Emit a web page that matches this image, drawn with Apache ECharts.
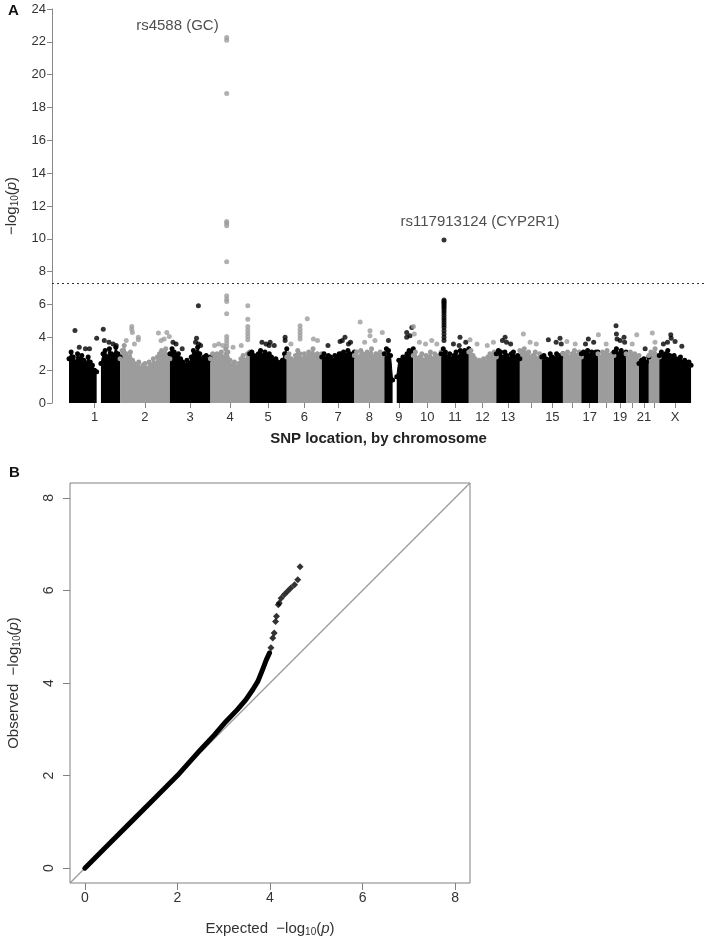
<!DOCTYPE html>
<html><head><meta charset="utf-8">
<script src="https://cdn.jsdelivr.net/npm/echarts@6/dist/echarts.min.js"></script>
<style>html,body{margin:0;padding:0;background:#fff}#c{width:712px;height:944px}</style>
</head><body><div id="c"></div>
<script>
// ---------------- Panel A data (Manhattan) ----------------
const chromNames = ['1','2','3','4','5','6','7','8','9','10','11','12','13','14','15','16','17','18','19','20','21','22','X'];
const chromLengths = [249,243,198,191,181,171,159,146,141,136,135,134,115,107,103,90,81,78,59,63,48,51,155]; // Mb
const shownChromLabels = ['1','2','3','4','5','6','7','8','9','10','11','12','13','15','17','19','21','X'];
const yTicksA = [0,2,4,6,8,10,12,14,16,18,20,22,24];
const significanceLine = 7.3;

// upper edge of the dense SNP cloud per chromosome (evenly spaced along the chromosome), null = no SNPs
const bulk1  = [2.7,3.1,2.8,2.5,3.0,2.7,2.9,2.6,2.4,2.8,2.5,2.3,2.0,1.9,null,2.4,3.0,3.2,2.8,3.3,3.0,2.9,3.4,3.0,2.8];
const bulk2  = [2.7,3.2,3.5,3.0,2.8,3.1,2.6,2.4,2.2,2.5,2.1,2.3,2.4,2.1,2.5,2.3,2.7,2.4,2.8,3.0,3.2,3.0,3.3,2.9,2.7];
const bulk3  = [3.0,3.3,3.1,2.9,3.0,2.7,2.5,2.3,2.6,2.4,2.8,3.2,3.0,3.4,3.0,2.7,2.8,2.9,2.6,2.8];
const bulk4  = [2.7,3.0,2.8,3.0,2.9,3.1,2.8,3.3,3.1,2.6,2.3,2.5,2.2,2.4,2.7,2.9,2.6,3.0,3.1];
const bulk5  = [3.0,3.1,2.9,2.8,3.0,3.2,2.9,3.1,2.9,3.0,2.8,2.6,2.7,2.5,2.4,2.6,3.0,3.3];
const bulk6  = [2.8,3.0,2.7,2.6,2.9,3.2,3.0,2.7,3.0,2.8,3.1,3.0,3.3,2.9,3.0,2.8,3.0];
const bulk7  = [2.8,3.0,2.7,2.9,2.8,2.6,2.9,2.8,3.0,3.0,3.1,2.9,3.2,3.0,2.8,3.1];
const bulk8  = [2.9,3.1,2.8,3.2,3.0,2.9,3.1,3.0,3.3,2.8,3.0,2.9,3.1,2.9,3.0];
const bulk9  = [3.0,3.3,3.2,2.9,1.4,null,1.6,2.6,2.6,2.8,2.8,3.0,3.2,3.1,3.3];
const bulk10 = [2.9,3.1,2.7,2.8,3.0,2.6,2.9,2.8,3.1,2.7,3.0,2.8,2.9,3.1];
const bulk11 = [3.0,3.3,3.1,2.8,3.0,2.7,2.9,3.1,2.8,3.2,3.0,3.2,3.1,3.3];
const bulk12 = [3.1,3.2,2.9,2.7,2.5,2.6,2.4,2.7,2.5,2.8,3.0,2.9,3.1,2.8];
const bulk13 = [3.0,3.2,3.1,2.8,3.1,2.9,2.7,3.0,3.1,2.8,2.9,2.7];
const bulk14 = [3.2,3.1,3.3,3.0,3.1,2.8,2.9,3.1,2.7,3.0,2.8];
const bulk15 = [2.8,2.9,2.7,2.6,3.0,2.8,2.7,3.0,2.9,2.8,3.0];
const bulk16 = [3.0,2.9,3.1,2.8,3.0,3.2,2.9,3.1,2.8];
const bulk17 = [3.0,3.1,3.0,3.2,2.9,3.1,3.0,3.1,3.1];
const bulk18 = [3.0,2.8,3.1,3.0,3.2,2.9,3.0,2.9];
const bulk19 = [3.1,3.3,3.0,3.2,3.0,3.1];
const bulk20 = [3.0,2.8,3.1,2.9,3.0,2.8,2.9];
const bulk21 = [2.4,2.6,2.7,2.5,2.8];
const bulk22 = [2.9,3.1,3.0,3.3,2.9,2.8];
const bulkX  = [2.9,3.1,2.9,3.0,3.2,2.9,2.8,2.9,2.7,2.6,2.8,2.5,2.6,2.4,2.5,2.3];
const bulkHeights = [bulk1,bulk2,bulk3,bulk4,bulk5,bulk6,bulk7,bulk8,bulk9,bulk10,bulk11,bulk12,bulk13,bulk14,bulk15,bulk16,bulk17,bulk18,bulk19,bulk20,bulk21,bulk22,bulkX];

// individual SNPs standing out of the cloud: [chromosome index (1..23), position Mb, -log10(p)]
const hits = [
  [1,29,4.42],[1,135,3.95],[1,167,4.5],[1,172,3.8],[1,50,3.4],[1,80,3.3],[1,100,3.3],[1,195,3.7],[1,215,3.6],[1,230,3.5],
  [2,57,4.66],[2,57,4.5],[2,60,4.3],[2,89,4.0],[2,89,3.85],[2,187,4.26],[2,228,4.3],[2,240,4.05],[2,30,3.8],[2,70,3.6],[2,200,3.8],[2,215,3.9],
  [3,139,5.92],[3,130,3.95],[3,125,3.7],[3,140,3.6],[3,150,3.5],[3,15,3.7],[3,30,3.6],[3,60,3.3],
  [4,79,22.26],[4,79,22.1],[4,79,18.85],[4,79,11.05],[4,79,10.95],[4,79,10.8],[4,79,8.6],[4,79,6.53],[4,79,6.33],[4,79,6.18],[4,79,5.43],
  [4,79,4.05],[4,79,3.85],[4,79,3.65],[4,79,3.45],
  [4,182,5.92],[4,182,5.1],[4,182,4.66],[4,182,4.45],[4,182,4.25],[4,182,4.05],[4,182,3.85],
  [4,20,3.5],[4,40,3.6],[4,60,3.5],[4,110,3.4],[4,150,3.5],
  [5,173,4.0],[5,173,3.8],[5,60,3.7],[5,80,3.6],[5,100,3.7],[5,120,3.5],[5,95,3.5],
  [6,65,4.7],[6,65,4.5],[6,65,4.3],[6,65,4.1],[6,65,3.9],[6,100,5.13],[6,130,3.9],[6,150,3.8],[6,20,3.6],
  [7,113,4.0],[7,89,3.75],[7,100,3.8],[7,140,3.7],[7,30,3.5],[7,130,3.6],
  [8,28,4.93],[8,76,4.4],[8,76,4.1],[8,136,4.3],[8,50,3.7],[8,100,3.8],
  [9,109,4.3],[9,109,4.0],[9,134,4.6],[9,125,4.1],[9,20,3.8],
  [10,1,4.66],[10,30,3.7],[10,60,3.6],[10,90,3.8],[10,115,3.6],[10,5,4.2],
  [11,14,9.93],[11,14,6.28],[11,14,6.2],[11,14,6.12],[11,14,6.05],[11,14,5.95],[11,14,5.85],[11,14,5.75],[11,14,5.62],[11,14,5.5],
  [11,14,5.35],[11,14,5.2],[11,14,5.05],[11,14,4.9],[11,14,4.75],[11,14,4.6],[11,14,4.4],[11,14,4.2],[11,14,4.0],[11,14,3.8],
  [11,92,4.0],[11,88,3.5],[11,60,3.6],[11,120,3.7],
  [12,6,3.85],[12,40,3.6],[12,90,3.5],[12,120,3.7],
  [13,43,4.0],[13,30,3.8],[13,50,3.7],[13,70,3.6],
  [14,17,4.2],[14,50,3.7],[14,80,3.6],
  [15,32,3.85],[15,89,3.95],[15,70,3.7],[15,95,3.6],
  [16,19,3.75],[16,60,3.6],
  [17,34,3.9],[17,60,3.7],[17,20,3.6],
  [18,2,4.15],[18,40,3.6],
  [19,10,4.7],[19,49,4.0],[19,12,4.2],[19,15,3.9],[19,30,3.8],[19,52,3.7],
  [20,52,4.15],[20,30,3.6],
  [21,30,3.3],
  [22,17,4.26],[22,30,3.7],
  [23,56,4.15],[23,58,3.95],[23,77,3.75],[23,110,3.45],[23,20,3.6],[23,40,3.7]
];

// annotations: [text, chromosome index, position Mb, -log10(p) of label]
const annotations = [
  ['rs4588 (GC)', 4, 79, 22.95],
  ['rs117913124 (CYP2R1)', 11, 14, 11.05]
];

// ---------------- Panel B data (QQ plot) ----------------
const qqTicks = [0,2,4,6,8];
const qqExpected = [0,0.5,1.0,1.5,2.0,2.5,2.8,3.05,3.3,3.48,3.63,3.74,3.84,3.92,3.99];
const qqObserved = [0,0.5,1.0,1.5,2.0,2.56,2.88,3.17,3.43,3.64,3.86,4.04,4.29,4.50,4.65];
const qqTailExpected = [4.02,4.06,4.09,4.12,4.14,4.18,4.20,4.24,4.31,4.38,4.45,4.53,4.60,4.65];
const qqTailObserved = [4.76,4.97,5.08,5.33,5.44,5.69,5.73,5.83,5.91,5.98,6.05,6.12,6.23,6.51];
const qqRange = [-0.32, 8.32];

// ---------------- build ----------------
const BLACK = '#000000', GREY = '#9c9c9c';
const FONT = '"Liberation Sans", Arial, Helvetica, sans-serif';
const offsets = [];
let acc = 0;
chromLengths.forEach(l => { offsets.push(acc); acc += l; });
const mids = chromLengths.map((l, i) => offsets[i] + l / 2);
const colorOf = i => (i % 2 === 0 ? BLACK : GREY);
const nameAt = v => {
  let best = 0, d = Infinity;
  mids.forEach((m, i) => { if (Math.abs(m - v) < d) { d = Math.abs(m - v); best = i; } });
  return chromNames[best];
};

const series = [];
bulkHeights.forEach((arr, i) => {
  const len = chromLengths[i], n = arr.length;
  const pts = arr.map((v, j) => [offsets[i] + j * len / (n - 1), v === null ? '-' : v]);
  const c = colorOf(i);
  series.push({
    type: 'line', xAxisIndex: 0, yAxisIndex: 0, data: pts,
    symbol: 'circle', symbolSize: 5, showSymbol: true, showAllSymbol: true,
    lineStyle: { width: 1, color: c }, itemStyle: { color: c },
    areaStyle: { color: c, opacity: 1 }, connectNulls: false,
    silent: true, z: 2
  });
});
series.push({
  type: 'scatter', xAxisIndex: 0, yAxisIndex: 0, symbol: 'circle', symbolSize: 5, z: 3, silent: true,
  data: hits.map(h => ({ value: [offsets[h[0]-1] + h[1], h[2]], itemStyle: { color: colorOf(h[0]-1) } })),
  markLine: {
    silent: true, symbol: 'none', label: { show: false },
    lineStyle: { type: [2, 3], color: '#333', width: 1 },
    data: [{ yAxis: significanceLine }]
  }
});
series.push({
  type: 'scatter', xAxisIndex: 0, yAxisIndex: 0, symbolSize: 0, z: 4, silent: true,
  data: annotations.map((a, k) => ({
    value: [offsets[a[1]-1] + a[2], a[3]],
    label: k === 0
      ? { show: true, formatter: a[0], position: 'left', distance: 8 }
      : { show: true, formatter: a[0], position: 'inside', offset: [36, 0] }
  })),
  label: { fontSize: 15, color: '#222', fontFamily: FONT }
});

// QQ
series.push({
  type: 'line', xAxisIndex: 1, yAxisIndex: 1, data: [[qqRange[0], qqRange[0]], [qqRange[1], qqRange[1]]],
  symbol: 'none', lineStyle: { color: '#9a9a9a', width: 1.3 }, silent: true, z: 2
});
series.push({
  type: 'line', xAxisIndex: 1, yAxisIndex: 1, data: qqExpected.map((e, i) => [e, qqObserved[i]]),
  symbol: 'none', lineStyle: { color: '#000', width: 5, cap: 'round', join: 'round' }, silent: true, z: 3
});
series.push({
  type: 'scatter', xAxisIndex: 1, yAxisIndex: 1, data: qqTailExpected.map((e, i) => [e, qqTailObserved[i]]),
  symbol: 'diamond', symbolSize: 7, itemStyle: { color: '#000' }, silent: true, z: 3
});

const logRich = {
  n: { fontSize: 15, color: '#333', fontFamily: FONT },
  s: { fontSize: 10, color: '#333', fontFamily: FONT, verticalAlign: 'bottom', padding: [6, 0, 0, 0] },
  i: { fontSize: 15, color: '#333', fontFamily: FONT, fontStyle: 'italic' }
};

const option = {
  animation: false,
  backgroundColor: '#fff',
  textStyle: { fontFamily: FONT },
  graphic: [
    { type: 'text', left: 8, top: 3, style: { text: 'A', font: 'bold 15px ' + FONT, fill: '#111' } },
    { type: 'text', left: 9, top: 465, style: { text: 'B', font: 'bold 15px ' + FONT, fill: '#111' } }
  ],
  grid: [
    { left: 52, top: 9, width: 653, height: 394, outerBoundsMode: 'none', containLabel: false },
    { left: 70, top: 483, width: 400, height: 400, show: true, borderColor: '#808080', borderWidth: 1,
      backgroundColor: 'transparent', outerBoundsMode: 'none', containLabel: false }
  ],
  xAxis: [
    {
      type: 'value', gridIndex: 0, min: -83, max: 3102,
      axisLine: { show: false, onZero: false }, splitLine: { show: false },
      axisTick: { show: true, customValues: mids, length: 5, lineStyle: { color: '#888' } },
      axisLabel: { customValues: shownChromLabels.map(n => mids[chromNames.indexOf(n)]),
        formatter: v => nameAt(v), fontSize: 13, color: '#333', margin: 8, hideOverlap: false },
      name: 'SNP location, by chromosome', nameLocation: 'middle', nameGap: 28,
      nameTextStyle: { fontSize: 15, fontWeight: 'bold', color: '#222' }
    },
    {
      type: 'value', gridIndex: 1, min: qqRange[0], max: qqRange[1], position: 'bottom',
      axisLine: { show: false, onZero: false }, splitLine: { show: false },
      axisTick: { show: true, customValues: qqTicks, length: 7, lineStyle: { color: '#808080' } },
      axisLabel: { customValues: qqTicks, fontSize: 14, color: '#333', margin: 8 },
      name: '{n|Expected  \u2212log}{s|10}{n|(}{i|p}{n|)}', nameLocation: 'middle', nameGap: 38,
      nameTextStyle: { rich: logRich }
    }
  ],
  yAxis: [
    {
      type: 'value', gridIndex: 0, min: 0, max: 24, interval: 2,
      axisLine: { show: true, onZero: false, lineStyle: { color: '#888' } }, splitLine: { show: false },
      axisTick: { show: true, length: 5, lineStyle: { color: '#888' } },
      axisLabel: { fontSize: 13, color: '#333', margin: 6, customValues: yTicksA },
      name: '{n|\u2212log}{s|10}{n|(}{i|p}{n|)}', nameLocation: 'middle', nameGap: 32, nameRotate: 90,
      nameTextStyle: { rich: logRich }
    },
    {
      type: 'value', gridIndex: 1, min: qqRange[0], max: qqRange[1], position: 'left',
      axisLine: { show: false, onZero: false }, splitLine: { show: false },
      axisTick: { show: true, customValues: qqTicks, length: 7, lineStyle: { color: '#808080' } },
      axisLabel: { customValues: qqTicks, fontSize: 14, color: '#333', margin: 14, rotate: 90 },
      name: '{n|Observed  \u2212log}{s|10}{n|(}{i|p}{n|)}', nameLocation: 'middle', nameGap: 48, nameRotate: 90,
      nameTextStyle: { rich: logRich }
    }
  ],
  series: series
};
const chart = echarts.init(document.getElementById('c'), null, { renderer: 'canvas' });
chart.setOption(option);
</script></body></html>
